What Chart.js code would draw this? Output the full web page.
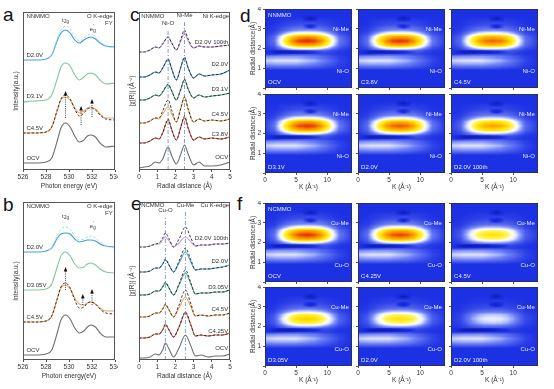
<!DOCTYPE html>
<html>
<head>
<meta charset="utf-8">
<script src="https://cdn.jsdelivr.net/npm/chart.js@4.4.0/dist/chart.umd.min.js"></script>
<style>
  body { margin: 0; width: 554px; height: 389px; position: relative; overflow: hidden; background: #fff;
         font-family: "Liberation Sans", Arial, sans-serif; }
  canvas { position: absolute; }
  .lt { position: absolute; font-size: 19px; line-height: 19px; color: #111; }
</style>
</head>
<body>
<div class="lt" style="left:3px;top:5px">a</div>
<div class="lt" style="left:3px;top:195px">b</div>
<div class="lt" style="left:130px;top:5px">c</div>
<div class="lt" style="left:131px;top:194px">e</div>
<div class="lt" style="left:240px;top:6px">d</div>
<div class="lt" style="left:237px;top:194px">f</div>
<script>
// ---- O K-edge FY spectra (panels a, b), offsets already included ----
const oEnergy = [526, 527, 528, 528.5, 529, 529.3, 529.7, 530.1, 530.5, 530.9, 531.3, 531.6, 531.9, 532.3, 532.7, 533.2, 534];
const aOCV  = [7, 7, 8, 12, 30, 42, 47, 43, 34, 28, 30, 34, 35, 33, 27, 23, 24];
const aC45  = [37, 37, 38, 43, 60, 70, 73, 70, 62, 57, 59, 62, 63, 61, 56, 52, 52];
const aC45d = [37, 37, 38, 43, 61, 71, 75, 71, 61, 54, 57, 61, 62, 60, 55, 51, 50];
const aD31  = [68, 69, 70, 75, 92, 103, 107, 104, 95, 90, 93, 96, 97, 95, 90, 86, 87];
const aD20  = [110, 110, 111, 115, 130, 137, 140, 137, 130, 127, 130, 132, 133, 131, 127, 124, 123];
const aD20d = [110, 110, 111, 115, 132, 140, 144, 141, 133, 129, 132, 135, 136, 133, 128, 124, 122];
const aLabels = ['D2.0V', 'D3.1V', 'C4.5V', 'OCV'];
const aLabelY = [115, 74, 42, 12];
const aArrows = [[529.7, 52, 79], [531.05, 45, 64], [532.0, 53, 71]];

const bOCV  = [5, 5, 6, 10, 28, 40, 45, 41, 32, 27, 29, 33, 35, 33, 27, 23, 23];
const bC45  = [38, 38, 39, 44, 62, 72, 75, 71, 62, 56, 55, 57, 58, 56, 52, 49, 49];
const bC45d = [38, 38, 39, 44, 62, 73, 77, 72, 60, 52, 53, 57, 58, 56, 51, 47, 46];
const bD305 = [70, 70, 71, 76, 94, 104, 108, 104, 96, 92, 93, 96, 97, 95, 91, 88, 87];
const bD20  = [108, 108, 109, 112, 122, 126, 127, 126, 121, 118, 119, 120, 120, 119, 116, 114, 113];
const bD20d = [108, 108, 109, 113, 125, 131, 133, 131, 124, 120, 121, 123, 124, 122, 118, 114, 112];
const bLabels = ['D2.0V', 'D3.05V', 'C4.5V', 'OCV'];
const bLabelY = [113, 75, 43, 10];
const bArrows = [[529.7, 70, 93], [531.2, 55, 66], [532.0, 55, 71]];

// ---- Ni K-edge |chi(R)| (panel c) ----
const niR = [0, 0.3, 0.6, 0.9, 1.1, 1.3, 1.6, 1.8, 2.05, 2.3, 2.5, 2.7, 3.0, 3.3, 3.6, 4.0, 4.5, 5.0];
const cOCV   = [2, 3, 4, 8, 7, 11, 23, 14, 6, 16, 25, 16, 5, 8, 4, 4, 5, 8];
const cC38   = [27, 27, 29, 32, 31, 37, 50, 40, 30, 43, 53, 42, 30, 33, 31, 32, 31, 33];
const cC38d  = [27, 27, 29, 32, 31, 37, 51, 40, 30, 43, 54, 42, 30, 33, 31, 32, 31, 33];
const cC45   = [47, 47, 49, 52, 51, 56, 63, 56, 48, 62, 73, 61, 48, 51, 49, 50, 49, 51];
const cC45d  = [47, 47, 49, 52, 52, 59, 70, 60, 48, 62, 73, 61, 48, 51, 49, 50, 49, 51];
const cD31   = [70, 70, 72, 75, 74, 78, 85, 79, 70, 81, 90, 81, 72, 75, 73, 74, 75, 77];
const cD31d  = [70, 70, 72, 75, 74, 78, 86, 79, 70, 81, 91, 81, 72, 75, 73, 74, 75, 77];
const cD20   = [93, 93, 95, 98, 97, 102, 110, 101, 90, 103, 112, 102, 92, 96, 94, 95, 96, 100];
const cD20d  = [93, 93, 95, 98, 97, 102, 111, 101, 90, 103, 113, 102, 92, 96, 94, 95, 96, 100];
const cD100  = [118, 118, 120, 123, 122, 126, 133, 127, 120, 129, 137, 129, 122, 124, 123, 123, 124, 125];
const cD100d = [118, 118, 120, 123, 122, 126, 133, 127, 120, 131, 140, 131, 122, 124, 123, 123, 124, 125];
const cLabels = ['D2.0V 100th', 'D2.0V', 'D3.1V', 'C4.5V', 'C3.8V', 'OCV'];
const cLabelY = [128, 106, 81, 56, 36, 13];
const niMarks = [1.6, 2.5];
const niMarkTop = [140, 148];

// ---- Cu K-edge |chi(R)| (panel e) ----
const cuR = [0, 0.3, 0.6, 0.9, 1.1, 1.3, 1.45, 1.65, 1.9, 2.2, 2.55, 2.85, 3.1, 3.4, 3.8, 4.2, 4.6, 5.0];
const eOCV   = [2, 2, 3, 6, 5, 10, 17, 11, 3, 12, 25, 14, 4, 5, 3, 4, 4, 6];
const eC425  = [22, 22, 23, 26, 26, 30, 35, 30, 23, 33, 47, 35, 24, 25, 24, 25, 25, 27];
const eC425d = [22, 22, 23, 26, 26, 30, 36, 30, 23, 33, 48, 35, 24, 25, 24, 25, 25, 27];
const eC45   = [43, 43, 44, 47, 47, 51, 55, 50, 43, 52, 63, 53, 44, 45, 44, 45, 45, 47];
const eC45d  = [43, 43, 44, 47, 47, 51, 56, 50, 43, 55, 70, 56, 44, 45, 44, 45, 45, 47];
const eD305  = [65, 65, 66, 69, 69, 73, 77, 72, 65, 75, 87, 76, 66, 67, 67, 68, 68, 70];
const eD305d = [65, 65, 66, 69, 69, 73, 78, 72, 65, 76, 90, 77, 66, 67, 67, 68, 68, 70];
const eD20   = [88, 88, 89, 92, 92, 96, 100, 95, 88, 97, 108, 98, 90, 91, 91, 92, 93, 95];
const eD20d  = [88, 88, 89, 92, 92, 96, 101, 95, 88, 99, 112, 100, 90, 91, 91, 92, 93, 95];
const eD100  = [113, 113, 114, 116, 116, 120, 123, 119, 113, 117, 123, 118, 114, 115, 115, 116, 116, 117];
const eD100d = [113, 113, 114, 116, 117, 122, 127, 121, 113, 121, 133, 122, 114, 115, 115, 116, 116, 117];
const eLabels = ['D2.0V 100th', 'D2.0V', 'D3.05V', 'C4.5V', 'C4.25V', 'OCV'];
const eLabelY = [122, 99, 73, 51, 29, 12];
const cuMarks = [1.45, 2.55];
const cuMarkTop = [143, 148];

// ---- wavelet maps (panels d, f): read profiles [position, level] ----
const niStates = ['OCV', 'C3.8V', 'C4.5V', 'D3.1V', 'D2.0V', 'D2.0V 100th'];
const niPeak   = [0.70, 0.69, 0.64, 0.69, 0.65, 0.55];
const cuStates = ['OCV', 'C4.25V', 'C4.5V', 'D3.05V', 'D2.0V', 'D2.0V 100th'];
const cuPeak   = [0.69, 0.67, 0.44, 0.48, 0.44, 0.24];
const waveBase = 0.3;
const blobK = [[0, 0.04], [1.5, 0.14], [2.5, 0.38], [3.5, 0.64], [4.5, 0.85], [5.5, 0.96], [6.8, 1], [8, 0.96], [9, 0.85], [10, 0.64], [11, 0.38], [12, 0.16], [14, 0.03]];
const blobR = [[1.55, 0], [1.88, 0.12], [2.03, 0.45], [2.17, 0.8], [2.38, 1], [2.6, 0.8], [2.74, 0.45], [2.92, 0.2], [3.2, 0.07], [3.6, 0]];
const bandAmp = 0.22;
const bandK = [[0, 0.9], [2, 1], [5, 1], [8, 0.75], [10, 0.45], [12, 0.15], [14, 0]];
const bandR = [[0.9, 0], [1.15, 0.6], [1.38, 1], [1.6, 0.6], [1.72, 0]];
const streakAmp = 0.2;
const streakK = [[0.5, 0], [2, 0.8], [4, 1], [6, 0.85], [8, 0.35], [9.5, 0]];
const streakR = [[1.7, 0], [1.82, 1], [1.94, 0]];
const spotAmp = 0.13;
const spotK = [[6, 0], [7.3, 1], [8.6, 0]];
const spotR1 = [[3.35, 0], [3.52, 1], [3.7, 0]];
const spotR2 = [[2.95, 0], [3.1, 1], [3.27, 0]];
const cmapStops = [0, 0.15, 0.3, 0.42, 0.52, 0.58, 0.65, 0.74, 0.88, 1];
const cmapRGB = [[5, 10, 110], [15, 25, 170], [28, 48, 228], [110, 130, 245], [225, 230, 255],
                 [255, 255, 235], [255, 245, 90], [255, 225, 0], [250, 140, 0], [222, 35, 0]];

const FONT = '"Liberation Sans", Arial, sans-serif';
Chart.defaults.font.family = FONT;
Chart.defaults.font.size = 6.5;
Chart.defaults.color = '#333';

function interp(keys, v) {
  if (v <= keys[0][0]) return keys[0][1];
  const last = keys[keys.length - 1];
  if (v >= last[0]) return last[1];
  for (let i = 1; i < keys.length; i++) {
    if (v <= keys[i][0]) {
      const t = (v - keys[i - 1][0]) / (keys[i][0] - keys[i - 1][0]);
      return keys[i - 1][1] + t * (keys[i][1] - keys[i - 1][1]);
    }
  }
  return last[1];
}

function level(k, r, amp) {
  return waveBase + amp * interp(blobK, k) * interp(blobR, r)
    + bandAmp * interp(bandK, k) * interp(bandR, r)
    - streakAmp * interp(streakK, k) * interp(streakR, r)
    - spotAmp * interp(spotK, k) * (interp(spotR1, r) + interp(spotR2, r));
}

function colour(v) {
  v = Math.max(0, Math.min(1, v));
  for (let i = 1; i < cmapStops.length; i++) {
    if (v <= cmapStops[i]) {
      const t = (v - cmapStops[i - 1]) / (cmapStops[i] - cmapStops[i - 1]);
      const a = cmapRGB[i - 1], b = cmapRGB[i];
      return [a[0] + t * (b[0] - a[0]), a[1] + t * (b[1] - a[1]), a[2] + t * (b[2] - a[2])];
    }
  }
  return cmapRGB[cmapRGB.length - 1];
}

// paints the wavelet map cell by cell through the chart's own scales
const wavelet = {
  id: 'wavelet',
  beforeDatasetsDraw(chart, args, o) {
    const { ctx, chartArea: a, scales: { x, y } } = chart;
    const w = Math.round(a.right - a.left), h = Math.round(a.bottom - a.top);
    const off = document.createElement('canvas');
    off.width = w; off.height = h;
    const oc = off.getContext('2d');
    const img = oc.createImageData(w, h);
    for (let j = 0; j < h; j++) {
      const r = y.getValueForPixel(a.top + j + 0.5);
      for (let i = 0; i < w; i++) {
        const k = x.getValueForPixel(a.left + i + 0.5);
        const c = colour(level(k, r, o.amp));
        const p = (j * w + i) * 4;
        img.data[p] = c[0]; img.data[p + 1] = c[1]; img.data[p + 2] = c[2]; img.data[p + 3] = 255;
      }
    }
    oc.putImageData(img, 0, 0);
    ctx.drawImage(off, a.left, a.top);
  }
};

// frame, text notes and arrows in data coordinates
const extras = {
  id: 'extras',
  afterDatasetsDraw(chart, args, o) {
    const { ctx, chartArea: a, scales: { x, y } } = chart;
    ctx.save();
    (o.arrows || []).forEach(ar => {
      const px = x.getPixelForValue(ar[0]), y0 = y.getPixelForValue(ar[1]), y1 = y.getPixelForValue(ar[2]);
      ctx.strokeStyle = '#111'; ctx.lineWidth = 0.8; ctx.setLineDash([1, 1.2]);
      ctx.beginPath(); ctx.moveTo(px, y0); ctx.lineTo(px, y1 + 3); ctx.stroke();
      ctx.setLineDash([]); ctx.fillStyle = '#111';
      ctx.beginPath(); ctx.moveTo(px, y1); ctx.lineTo(px - 1.8, y1 + 4.5); ctx.lineTo(px + 1.8, y1 + 4.5);
      ctx.closePath(); ctx.fill();
    });
    (o.notes || []).forEach(n => {
      ctx.font = (n.size || 6) + 'px ' + FONT;
      ctx.fillStyle = n.color || '#333';
      ctx.textAlign = n.align || 'left';
      ctx.textBaseline = 'middle';
      const px = x.getPixelForValue(n.x), py = y.getPixelForValue(n.y);
      ctx.fillText(n.text, px, py);
      if (n.sub || n.sup) {
        const w = ctx.measureText(n.text).width;
        ctx.textAlign = 'left';
        ctx.font = '4.5px ' + FONT;
        if (n.sup) ctx.fillText(n.sup, px + w + 0.3, py - 2.6);
        if (n.sub) ctx.fillText(n.sub, px + w + 0.3, py + 2.2);
      }
    });
    if (o.frame) {
      ctx.strokeStyle = o.frame; ctx.lineWidth = 1;
      ctx.strokeRect(a.left + 0.5, a.top + 0.5, a.right - a.left - 1, a.bottom - a.top - 1);
    }
    ctx.restore();
  }
};

function place(left, top, w, h) {
  const c = document.createElement('canvas');
  c.width = w; c.height = h;
  c.style.left = left + 'px'; c.style.top = top + 'px';
  c.style.width = w + 'px'; c.style.height = h + 'px';
  document.body.appendChild(c);
  return c;
}

const pts = (xs, ys) => xs.map((v, i) => ({ x: v, y: ys[i] }));
const solid = (xs, ys, col) => ({ data: pts(xs, ys), borderColor: col, borderWidth: 1.1 });
const dashed = (xs, ys, col) => ({ data: pts(xs, ys), borderColor: col, borderWidth: 0.9, borderDash: [2.5, 1.8] });
const markLine = (xv, top) => ({ data: [{ x: xv, y: 0 }, { x: xv, y: top }], borderColor: '#86a4c8',
                                  borderWidth: 1, borderDash: [4, 2, 1, 2], cubicInterpolationMode: 'default' });

function linePanel(o) {
  const cv = place(o.left, o.top, o.w, 192);
  new Chart(cv, {
    type: 'line',
    data: { datasets: o.datasets },
    options: {
      devicePixelRatio: 1, responsive: false, animation: false,
      layout: { padding: { left: 0, top: 12, right: 3, bottom: 0 } },
      elements: { point: { radius: 0 }, line: { cubicInterpolationMode: 'monotone' } },
      plugins: { legend: { display: false }, tooltip: { enabled: false },
                 extras: { frame: '#555', notes: o.notes, arrows: o.arrows } },
      scales: {
        x: { type: 'linear', min: o.xMin, max: o.xMax, border: { display: false },
             grid: { drawOnChartArea: false, tickLength: 2, color: '#555' },
             ticks: { stepSize: o.xStep, padding: 1, maxRotation: 0, includeBounds: false },
             title: { display: true, text: o.xTitle, padding: { top: 0, bottom: 2 } },
             afterFit: s => { s.height = 22; s.paddingLeft = 0; s.paddingRight = 0; } },
        y: { min: 0, max: 158, border: { display: false }, grid: { display: false }, ticks: { display: false },
             title: { display: true, text: o.yTitle, padding: { top: o.yTitlePad, bottom: 0 } },
             afterFit: s => { s.width = o.yw; s.paddingTop = 0; s.paddingBottom = 0; } }
      }
    },
    plugins: [extras]
  });
}

function labelNotes(texts, ys, xv, align) {
  return texts.map((t, i) => ({ x: xv, y: ys[i], text: t, align: align }));
}

// panel a
linePanel({
  left: 0, top: 0, w: 118, yw: 23, yTitlePad: 12, xMin: 526, xMax: 534, xStep: 2,
  xTitle: 'Photon energy (eV)', yTitle: 'Intensity(a.u.)', arrows: aArrows,
  datasets: [
    dashed(oEnergy, aD20d, '#9fd2f0'), solid(oEnergy, aD20, '#3d9edb'),
    solid(oEnergy, aD31, '#82c7a0'),
    dashed(oEnergy, aC45d, '#222'), solid(oEnergy, aC45, '#f2a25e'),
    solid(oEnergy, aOCV, '#6e6e6e')
  ],
  notes: [
    { x: 526.3, y: 154, text: 'NNMMO' }, { x: 533.8, y: 154, text: 'O K-edge', align: 'right' },
    { x: 533.8, y: 147, text: 'FY', align: 'right' },
    { x: 529.4, y: 150, text: 't', sub: '2g' }, { x: 531.8, y: 141, text: 'e', sup: "'", sub: 'g' }
  ].concat(labelNotes(aLabels, aLabelY, 526.3, 'left'))
});

// panel b
linePanel({
  left: 0, top: 190, w: 118, yw: 23, yTitlePad: 12, xMin: 526, xMax: 534, xStep: 2,
  xTitle: 'Photon energy(eV)', yTitle: 'Intensity(a.u.)', arrows: bArrows,
  datasets: [
    dashed(oEnergy, bD20d, '#9fd2f0'), solid(oEnergy, bD20, '#3d9edb'),
    solid(oEnergy, bD305, '#82c7a0'),
    dashed(oEnergy, bC45d, '#222'), solid(oEnergy, bC45, '#f2a25e'),
    solid(oEnergy, bOCV, '#6e6e6e')
  ],
  notes: [
    { x: 526.3, y: 154, text: 'NCMMO' }, { x: 533.8, y: 154, text: 'O K-edge', align: 'right' },
    { x: 533.8, y: 147, text: 'FY', align: 'right' },
    { x: 529.4, y: 144, text: 't', sub: '2g' }, { x: 531.8, y: 134, text: 'e', sup: "'", sub: 'g' }
  ].concat(labelNotes(bLabels, bLabelY, 526.3, 'left'))
});

// panel c
linePanel({
  left: 125, top: 0, w: 108, yw: 14, yTitlePad: 3, xMin: 0, xMax: 5, xStep: 1,
  xTitle: 'Radial distance (Å)', yTitle: '|χ(R)| (Å⁻⁴)',
  datasets: [
    dashed(niR, cD100d, '#222'), solid(niR, cD100, '#c09be0'),
    dashed(niR, cD20d, '#222'), solid(niR, cD20, '#3f93d2'),
    dashed(niR, cD31d, '#222'), solid(niR, cD31, '#4ea392'),
    dashed(niR, cC45d, '#222'), solid(niR, cC45, '#f2a552'),
    dashed(niR, cC38d, '#222'), solid(niR, cC38, '#e0594b'),
    solid(niR, cOCV, '#6e6e6e'),
    markLine(niMarks[0], niMarkTop[0]), markLine(niMarks[1], niMarkTop[1])
  ],
  notes: [
    { x: 0.12, y: 154, text: 'NNMMO' }, { x: 4.95, y: 154, text: 'Ni K-edge', align: 'right' },
    { x: niMarks[0], y: 147, text: 'Ni-O', align: 'center' },
    { x: niMarks[1], y: 155, text: 'Ni-Me', align: 'center' }
  ].concat(labelNotes(cLabels, cLabelY, 4.9, 'right'))
});

// panel e
linePanel({
  left: 125, top: 190, w: 108, yw: 14, yTitlePad: 3, xMin: 0, xMax: 5, xStep: 1,
  xTitle: 'Radial distance (Å)', yTitle: '|χ(R)| (Å⁻⁴)',
  datasets: [
    dashed(cuR, eD100d, '#222'), solid(cuR, eD100, '#c9a4e4'),
    dashed(cuR, eD20d, '#222'), solid(cuR, eD20, '#49a0d8'),
    dashed(cuR, eD305d, '#222'), solid(cuR, eD305, '#4ea596'),
    dashed(cuR, eC45d, '#222'), solid(cuR, eC45, '#f3a65a'),
    dashed(cuR, eC425d, '#222'), solid(cuR, eC425, '#dd5a4c'),
    solid(cuR, eOCV, '#6e6e6e'),
    markLine(cuMarks[0], cuMarkTop[0]), markLine(cuMarks[1], cuMarkTop[1])
  ],
  notes: [
    { x: 0.12, y: 155, text: 'NCMMO' }, { x: 4.95, y: 155, text: 'Cu K-edge', align: 'right' },
    { x: cuMarks[0], y: 150, text: 'Cu-O', align: 'center' },
    { x: cuMarks[1], y: 155, text: 'Cu-Me', align: 'center' }
  ].concat(labelNotes(eLabels, eLabelY, 4.9, 'right'))
});

// wavelet map panels
const mapCols = [265, 358, 451];
function mapPanel(ax, ay, col, row, amp, notes) {
  const padL = col === 0 ? 20 : 4, padB = row === 1 ? 22 : 4;
  const cv = place(ax - padL, ay - 2, padL + 87 + 2, 2 + 79 + padB);
  new Chart(cv, {
    type: 'scatter',
    data: { datasets: [{ data: [] }] },
    options: {
      devicePixelRatio: 1, responsive: false, animation: false,
      layout: { padding: { left: 0, top: 2, right: 2, bottom: 0 } },
      plugins: { legend: { display: false }, tooltip: { enabled: false },
                 wavelet: { amp: amp }, extras: { frame: '#2a2f60', notes: notes } },
      scales: {
        x: { type: 'linear', min: 0, max: 14, border: { display: false },
             grid: { drawOnChartArea: false, tickLength: 2, color: '#555' },
             ticks: { display: row === 1, stepSize: 5, includeBounds: false, padding: 1, maxRotation: 0 },
             title: { display: row === 1, text: 'K (Å⁻¹)', padding: { top: 0, bottom: 4 } },
             afterFit: s => { s.height = padB; s.paddingLeft = 0; s.paddingRight = 0; } },
        y: { min: 0, max: 4, border: { display: false },
             grid: { drawOnChartArea: false, tickLength: 2, color: '#555' },
             ticks: { display: col === 0, stepSize: 1, padding: 2, callback: v => (v === 0 ? '' : v) },
             title: { display: col === 0, text: 'Radial distance(Å)', padding: { top: 4, bottom: 0 } },
             afterFit: s => { s.width = padL; s.paddingTop = 0; s.paddingBottom = 0; } }
      }
    },
    plugins: [wavelet, extras]
  });
}

function mapGroup(rowTops, states, peaks, sample, el) {
  states.forEach((st, i) => {
    const col = i % 3, row = Math.floor(i / 3);
    const notes = [
      { x: 13.5, y: 2.95, text: el + '-Me', align: 'right', color: '#e6eaff' },
      { x: 13.5, y: 0.85, text: el + '-O', align: 'right', color: '#e6eaff' },
      { x: 0.5, y: 0.3, text: st, color: '#e6eaff' }
    ];
    if (i === 0) notes.push({ x: 0.5, y: 3.7, text: sample, color: '#e6eaff' });
    mapPanel(mapCols[col], rowTops[row], col, row, peaks[i], notes);
  });
}

mapGroup([9, 94], niStates, niPeak, 'NNMMO', 'Ni');
mapGroup([203, 287], cuStates, cuPeak, 'NCMMO', 'Cu');
</script>
</body>
</html>
